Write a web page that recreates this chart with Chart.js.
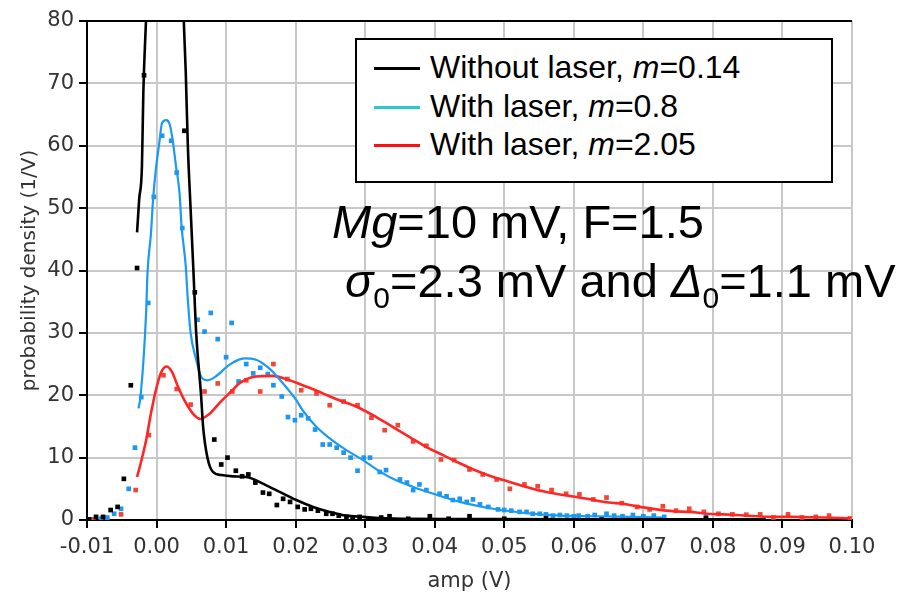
<!DOCTYPE html>
<html lang="en">
<head>
  <meta charset="UTF-8" />
  <title>Amplitude probability density</title>
  <script src="https://cdn.jsdelivr.net/npm/chart.js"></script>
  <style>
    body { margin: 0; background: #fff; }
    #wrap { position: relative; width: 904px; height: 592px; }
    #chart { position: absolute; left: 0; top: 0; }
    .note { position: absolute; white-space: nowrap; color: #000;
            font-family: 'Liberation Sans', Arial, sans-serif; }
    #legendBox { position: absolute; left: 355px; top: 38px; width: 474px; height: 141px;
                 border: 2px solid #000; background: #fff; }
    .swatch { position: absolute; left: 374px; width: 46px; height: 3px; }
    .leg { left: 430px; font-size: 32px; line-height: 32px; }
    .big { font-size: 47px; line-height: 47px; }
    .big sub { font-size: 30px; line-height: 0; vertical-align: -11px; }
  </style>
</head>
<body>
<div id="wrap">
  <canvas id="chart" width="904" height="592"></canvas>
  <div id="legendBox"></div>
  <div class="swatch" style="top:67px;background:#000"></div>
  <div class="swatch" style="top:106px;background:#2ec8cc"></div>
  <div class="swatch" style="top:144px;background:#ff1010"></div>
  <div class="note leg" style="top:51px">Without laser, <i>m</i>=0.14</div>
  <div class="note leg" style="top:90px">With laser, <i>m</i>=0.8</div>
  <div class="note leg" style="top:128px">With laser, <i>m</i>=2.05</div>
  <div class="note big" style="left:332px;top:198px"><i>Mg</i>=10 mV, F=1.5</div>
  <div class="note big" style="left:345px;top:257px"><i>σ</i><sub>0</sub>=2.3 mV and <i>Δ</i><sub>0</sub>=1.1 mV</div>
</div>

<script>
  const xTicks = [-0.01, 0, 0.01, 0.02, 0.03, 0.04, 0.05, 0.06, 0.07, 0.08, 0.09, 0.10];
  const yTicks = [0, 10, 20, 30, 40, 50, 60, 70, 80];

  // fitted curves, [amp (V), density (1/V)]
  const noLaserFit = [
    [-0.0028, 46.1], [-0.0025, 51.4], [-0.0021, 56.7], [-0.0019, 68.5], [-0.0015, 80.5],
    [-0.0010, 95], [0.0000, 112], [0.0010, 118], [0.0020, 112], [0.0030, 96],
    [0.0039, 80.5], [0.0042, 71.8], [0.0045, 60], [0.0049, 49.8], [0.0053, 40],
    [0.0057, 30], [0.0064, 20], [0.0067, 14.9], [0.0073, 10.1], [0.0081, 7.7],
    [0.0093, 7.2], [0.0110, 7.0], [0.0129, 6.9], [0.0157, 5.6], [0.0177, 4.5],
    [0.0201, 3.2], [0.0225, 2.1], [0.0249, 1.3], [0.0273, 0.7], [0.0297, 0.5],
    [0.0320, 0.3], [0.0360, 0.2], [0.0450, 0.15], [0.0600, 0.1], [0.0876, 0.1]
  ];
  const laser08Fit = [
    [-0.0026, 17.9], [-0.0023, 19.8], [-0.0015, 33.2], [-0.0013, 39.6], [-0.0008, 46],
    [-0.0005, 51.4], [-0.0001, 56.2], [0.0004, 60.5], [0.0008, 63.7], [0.0014, 64.1],
    [0.0019, 63.4], [0.0023, 61], [0.0028, 56.7], [0.0033, 52.5], [0.0036, 47.1],
    [0.0042, 40.7], [0.0045, 35.3], [0.0049, 30], [0.0057, 25.7], [0.0064, 23],
    [0.0073, 22.4], [0.0085, 23], [0.0105, 24.9], [0.0126, 25.9], [0.0143, 25.7],
    [0.0162, 24.3], [0.0181, 22.0], [0.0201, 19.2], [0.0210, 17.6], [0.0230, 14.9],
    [0.0249, 13.1], [0.0273, 11.2], [0.0297, 9.6], [0.0318, 8.0], [0.0340, 6.6],
    [0.0369, 5.3], [0.0398, 4.2], [0.0436, 2.9], [0.0484, 1.8], [0.0532, 1.1],
    [0.0580, 0.7], [0.0628, 0.6], [0.0680, 0.5], [0.0731, 0.4]
  ];
  const laser205Fit = [
    [-0.0028, 6.9], [-0.0023, 9.0], [-0.0015, 12.8], [-0.0008, 17.1], [-0.0001, 20.8],
    [0.0006, 23.5], [0.0014, 24.6], [0.0022, 23.8], [0.0030, 21.6], [0.0040, 19.2],
    [0.0052, 17.1], [0.0063, 16.2], [0.0076, 17.0], [0.0090, 18.7], [0.0109, 20.8],
    [0.0119, 21.9], [0.0143, 23.0], [0.0167, 23.1], [0.0191, 22.4], [0.0215, 21.4],
    [0.0239, 20.3], [0.0263, 19.2], [0.0287, 18.2], [0.0316, 16.5], [0.0340, 14.9],
    [0.0364, 13.3], [0.0388, 11.7], [0.0412, 10.4], [0.0436, 9.1], [0.0460, 7.9],
    [0.0484, 6.9], [0.0508, 6.1], [0.0532, 5.3], [0.0556, 4.6], [0.0580, 4.1],
    [0.0604, 3.7], [0.0628, 3.2], [0.0650, 2.8], [0.0671, 2.6], [0.0695, 2.1],
    [0.0719, 1.7], [0.0743, 1.4], [0.0767, 1.3], [0.0791, 1.0], [0.0815, 0.9],
    [0.0840, 0.75], [0.0864, 0.6], [0.0888, 0.5], [0.0912, 0.5], [0.0960, 0.4],
    [0.0998, 0.25]
  ];

  // measured histogram points
  const noLaserPts = [
    [-0.0097, 0.1], [-0.0087, 0.5], [-0.0077, 0.5], [-0.0066, 1.6], [-0.0056, 2.1],
    [-0.0047, 6.6], [-0.0037, 21.6], [-0.0028, 40.4], [-0.0018, 71.3], [0.0040, 62.4],
    [0.0055, 36.5], [0.0083, 12.9], [0.0093, 8.9], [0.0102, 10.0], [0.0114, 7.9],
    [0.0123, 7.0], [0.0132, 7.3], [0.0142, 6.0], [0.0153, 4.4], [0.0162, 4.2],
    [0.0173, 2.4], [0.0182, 3.4], [0.0192, 2.9], [0.0203, 2.1], [0.0213, 1.7],
    [0.0222, 1.8], [0.0232, 1.5], [0.0244, 1.0], [0.0253, 1.0], [0.0262, 0.7],
    [0.0273, 0.5], [0.0282, 0.2], [0.0292, 0.5], [0.0304, 0.2], [0.0323, 0.4],
    [0.0335, 0.6], [0.0362, 0.2], [0.0393, 0.6], [0.0420, 0.2], [0.0450, 0.6],
    [0.0500, 0.2], [0.0560, 0.3], [0.0640, 0.2], [0.0790, 0.3]
  ];
  const laser08Pts = [
    [-0.0097, 0.1], [-0.0080, 0.2], [-0.0071, 0.4], [-0.0061, 1.0], [-0.0051, 1.8],
    [-0.0040, 5.0], [-0.0031, 11.6], [-0.0022, 19.7], [-0.0012, 34.8], [-0.0004, 51.8],
    [0.0008, 61.6], [0.0021, 60.8], [0.0029, 55.7], [0.0037, 46.8], [0.0059, 32.1],
    [0.0069, 30.2], [0.0078, 33.2], [0.0088, 29.0], [0.0100, 26.1], [0.0108, 31.6],
    [0.0118, 22.2], [0.0129, 25.0], [0.0139, 23.5], [0.0149, 24.4], [0.0160, 23.4],
    [0.0168, 21.6], [0.0180, 19.8], [0.0189, 16.5], [0.0199, 16.0], [0.0208, 16.8],
    [0.0218, 16.3], [0.0228, 14.5], [0.0239, 12.1], [0.0249, 12.1], [0.0259, 11.6],
    [0.0269, 10.8], [0.0279, 10.0], [0.0289, 7.9], [0.0298, 10.0], [0.0307, 10.0],
    [0.0321, 7.7], [0.0330, 8.0], [0.0350, 6.5], [0.0360, 6.0], [0.0369, 4.8],
    [0.0378, 5.7], [0.0388, 4.8], [0.0407, 4.2], [0.0417, 3.8], [0.0426, 3.2],
    [0.0436, 3.4], [0.0446, 2.9], [0.0455, 3.3], [0.0465, 2.5], [0.0477, 2.1],
    [0.0491, 1.7], [0.0500, 1.6], [0.0510, 1.5], [0.0522, 1.3], [0.0532, 1.3],
    [0.0541, 1.0], [0.0551, 1.0], [0.0560, 0.9], [0.0570, 0.7], [0.0580, 0.8],
    [0.0590, 0.7], [0.0600, 0.6], [0.0607, 0.7], [0.0620, 0.6], [0.0630, 0.8],
    [0.0647, 1.0], [0.0658, 0.7], [0.0670, 0.6], [0.0685, 0.8], [0.0700, 0.6],
    [0.0715, 0.7], [0.0730, 0.5], [0.0790, 0.5]
  ];
  const laser205Pts = [
    [-0.0091, 0.1], [-0.0071, 0.1], [-0.0051, 0.9], [-0.0030, 4.8], [-0.0011, 13.6],
    [0.0010, 23.2], [0.0029, 21.0], [0.0049, 18.5], [0.0069, 20.6], [0.0088, 21.9],
    [0.0109, 20.6], [0.0129, 22.4], [0.0149, 20.6], [0.0168, 25.0], [0.0188, 22.6],
    [0.0208, 20.8], [0.0230, 20.3], [0.0249, 18.4], [0.0269, 19.0], [0.0289, 18.4],
    [0.0309, 16.4], [0.0328, 14.4], [0.0347, 15.2], [0.0369, 12.6], [0.0388, 11.9],
    [0.0409, 9.7], [0.0428, 9.6], [0.0450, 8.1], [0.0469, 7.3], [0.0489, 6.5],
    [0.0508, 5.0], [0.0529, 5.7], [0.0548, 5.4], [0.0568, 4.8], [0.0589, 4.2],
    [0.0608, 4.1], [0.0628, 3.3], [0.0647, 3.6], [0.0669, 2.7], [0.0691, 2.1],
    [0.0709, 1.7], [0.0728, 2.2], [0.0747, 1.5], [0.0766, 1.8], [0.0787, 1.3],
    [0.0808, 1.0], [0.0828, 0.9], [0.0848, 0.85], [0.0868, 0.9], [0.0887, 0.4],
    [0.0908, 0.9], [0.0928, 0.4], [0.0948, 0.5], [0.0967, 0.7], [0.0997, 0.25]
  ];

  const xy = arr => arr.map(([x, y]) => ({ x, y }));

  const fitLine = (data, color, width, order) => ({
    type: 'line', data: xy(data), borderColor: color, borderWidth: width,
    pointRadius: 0, cubicInterpolationMode: 'monotone', fill: false, order, clip: 0
  });
  const dots = (data, color, order) => ({
    type: 'scatter', data: xy(data), backgroundColor: color, borderWidth: 0,
    pointStyle: 'rect', pointRadius: 3.3, showLine: false, order
  });

  // black frame along the top edge of the plot
  const topFrame = {
    id: 'topFrame',
    beforeDatasetsDraw(chart) {
      const { ctx, chartArea: a } = chart;
      ctx.save();
      ctx.strokeStyle = '#000';
      ctx.lineWidth = 2;
      ctx.beginPath();
      ctx.moveTo(a.left, a.top);
      ctx.lineTo(a.right, a.top);
      ctx.stroke();
      ctx.restore();
    }
  };

  const tickFont = { family: 'DejaVu Sans', size: 21 };

  new Chart(document.getElementById('chart'), {
    data: {
      datasets: [
        fitLine(noLaserFit, '#000000', 2.6, 0),
        fitLine(laser08Fit, '#1a9af0', 2.2, 1),
        fitLine(laser205Fit, '#ff2626', 2.6, 2),
        dots(noLaserPts, '#000000', 3),
        dots(laser08Pts, '#1e96f0', 4),
        dots(laser205Pts, '#f24634', 5)
      ]
    },
    options: {
      responsive: false,
      animation: false,
      layout: { padding: { top: 21, right: 52, left: 0, bottom: 0 } },
      plugins: { legend: { display: false }, tooltip: { enabled: false } },
      scales: {
        x: {
          type: 'linear', min: -0.01, max: 0.10,
          afterBuildTicks: s => { s.ticks = xTicks.map(v => ({ value: v })); },
          afterFit: s => { s.height = 72; },
          grid: { color: '#c8c8c8', lineWidth: 2, tickColor: '#000', tickLength: 8, tickWidth: 2 },
          border: { color: '#000', width: 2 },
          ticks: { font: tickFont, color: '#333', padding: 7, autoSkip: false, maxRotation: 0,
                   callback: v => v.toFixed(2) },
          title: { display: true, text: 'amp (V)', color: '#333',
                   font: { family: 'DejaVu Sans', size: 21, lineHeight: 1 },
                   padding: { top: 0, bottom: 0 } }
        },
        y: {
          type: 'linear', min: 0, max: 80,
          afterBuildTicks: s => { s.ticks = yTicks.map(v => ({ value: v })); },
          afterFit: s => { s.width = 87; },
          grid: { color: '#c8c8c8', lineWidth: 2, tickColor: '#000', tickLength: 8, tickWidth: 2 },
          border: { color: '#000', width: 2 },
          ticks: { font: tickFont, color: '#333', padding: 5, callback: v => String(v) },
          title: { display: true, text: 'probability density (1/V)', color: '#333',
                   font: { family: 'DejaVu Sans', size: 20, lineHeight: 1 },
                   padding: { top: 20, bottom: 0 } }
        }
      }
    },
    plugins: [topFrame]
  });
</script>
</body>
</html>
